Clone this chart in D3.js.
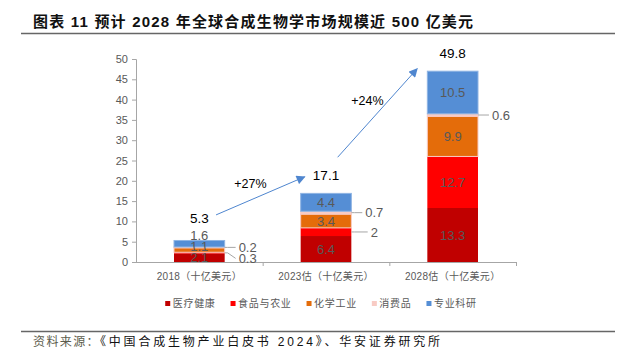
<!DOCTYPE html>
<html>
<head>
<meta charset="utf-8">
<script src="https://cdn.jsdelivr.net/npm/d3@7"></script>
<style>
  body { margin: 0; background: #fff; }
  text { font-family: "Liberation Sans", Arial, "Noto Sans CJK SC", sans-serif; }
  .cjk { font-family: "Liberation Sans", "Noto Sans CJK SC", sans-serif; }
</style>
</head>
<body>
<script>
// 数据
var categories = ["2018（十亿美元）", "2023估（十亿美元）", "2028估（十亿美元）"];
var seriesNames = ["医疗健康", "食品与农业", "化学工业", "消费品", "专业科研"];
var healthcare = [2.1, 6.4, 13.3];
var foodAgri = [0.3, 2, 12.7];
var chemical = [1.1, 3.4, 9.9];
var consumer = [0.2, 0.7, 0.6];
var research = [1.6, 4.4, 10.5];
var totals = [5.3, 17.1, 49.8];
var growth = ["+27%", "+24%"];
var yTicks = [0, 5, 10, 15, 20, 25, 30, 35, 40, 45, 50];
// 增长箭头的起止值（y轴单位）
var arrowFrom = [11.6, 25.8];
var arrowTo = [21.0, 47.6];

var w = 629, h = 354;
var colors = ["#C00000", "#FF0000", "#E46C0A", "#F8CBC4", "#558ED5"];
var grayText = "#595959";
// 小数值标在柱外的系列
var outsideSeries = ["食品与农业", "消费品"];

var svg = d3.select("body").append("svg")
  .attr("width", w)
  .attr("height", h);

// 标题
svg.append("text")
  .attr("class", "cjk")
  .attr("x", 33).attr("y", 26.5)
  .attr("font-size", 15).attr("font-weight", "bold")
  .attr("letter-spacing", 1.2)
  .attr("fill", "#111")
  .text("图表 11 预计 2028 年全球合成生物学市场规模近 500 亿美元");
svg.append("line")
  .attr("x1", 21).attr("x2", 615).attr("y1", 33.5).attr("y2", 33.5)
  .attr("stroke", "#666").attr("stroke-width", 1.5);

// 比例尺
var x = d3.scaleBand().domain(categories).range([136, 516])
  .paddingInner(0.6).paddingOuter(0.3);
var y = d3.scaleLinear().domain([0, 50]).range([262, 59]);

// 表格
var table = categories.map(function(c, i) {
  return {
    cat: c,
    "医疗健康": healthcare[i],
    "食品与农业": foodAgri[i],
    "化学工业": chemical[i],
    "消费品": consumer[i],
    "专业科研": research[i]
  };
});
var stacked = d3.stack().keys(seriesNames)(table);

// y 轴
var yAxis = svg.append("g")
  .attr("transform", "translate(136,0)")
  .call(d3.axisLeft(y).tickValues(yTicks).tickSize(4).tickPadding(4));
yAxis.select(".domain").attr("stroke", "#A6A6A6");
yAxis.selectAll(".tick line").attr("stroke", "#A6A6A6");
yAxis.selectAll(".tick text").attr("font-size", 11).attr("fill", grayText)
  .attr("font-family", "Liberation Sans, Arial, sans-serif");

// 柱子
var layers = svg.selectAll("g.layer")
  .data(stacked)
  .enter()
  .append("g")
  .attr("class", "layer")
  .attr("fill", function(d, i) { return colors[i]; });

layers.selectAll("rect")
  .data(function(d) { return d; })
  .enter()
  .append("rect")
  .attr("x", function(d) { return x(d.data.cat); })
  .attr("y", function(d) { return y(d[1]); })
  .attr("width", x.bandwidth())
  .attr("height", function(d) { return y(d[0]) - y(d[1]); })
  .attr("stroke", function() {
    var k = d3.select(this.parentNode).datum().key;
    return (k == "化学工业" || k == "消费品") ? "#F8CBC4" : (k == "专业科研" ? "#8FB4E3" : "none");
  })
  .attr("stroke-width", 1);

// x 轴
var xAxis = svg.append("g")
  .attr("transform", "translate(0,262)");
xAxis.append("line")
  .attr("x1", 136).attr("x2", 516).attr("y1", 0.5).attr("y2", 0.5)
  .attr("stroke", "#A6A6A6");
xAxis.selectAll("line.tk")
  .data(categories)
  .enter()
  .append("line")
  .attr("class", "tk")
  .attr("x1", function(d) { return x(d) + x.bandwidth() + x.step() * 0.3 + 0.5; })
  .attr("x2", function(d) { return x(d) + x.bandwidth() + x.step() * 0.3 + 0.5; })
  .attr("y1", 0).attr("y2", 4)
  .attr("stroke", "#A6A6A6");
xAxis.selectAll("text")
  .data(categories)
  .enter()
  .append("text")
  .attr("class", "cjk")
  .attr("x", function(d) { return x(d) + x.bandwidth() / 2; })
  .attr("y", 17.5)
  .attr("text-anchor", "middle")
  .attr("font-size", 10)
  .attr("letter-spacing", 0.3)
  .attr("fill", grayText)
  .text(function(d) { return d; });

// 数据标签
var inside = [], outside = [];
stacked.forEach(function(layer) {
  layer.forEach(function(d, i) {
    var v = d[1] - d[0];
    var item = { v: v, i: i, cat: d.data.cat, cy: y((d[0] + d[1]) / 2) };
    if (v <= 2 && outsideSeries.indexOf(layer.key) >= 0) outside.push(item);
    else inside.push(item);
  });
});

// 柱内标签：从下往上，避免重叠
var topLabel = [];
categories.forEach(function(c, i) {
  var items = inside.filter(function(d) { return d.i == i; })
    .sort(function(a, b) { return b.cy - a.cy; });
  items.forEach(function(d, k) {
    d.ly = d.cy;
    if (k > 0 && items[k - 1].ly - d.ly < 11) d.ly = items[k - 1].ly - 11;
  });
  topLabel[i] = items[items.length - 1].ly;
});

svg.selectAll("text.inlabel")
  .data(inside)
  .enter()
  .append("text")
  .attr("class", "inlabel")
  .attr("x", function(d) { return x(d.cat) + x.bandwidth() / 2; })
  .attr("y", function(d) { return d.ly; })
  .attr("dy", "0.36em")
  .attr("text-anchor", "middle")
  .attr("font-size", 13)
  .attr("fill", grayText)
  .text(function(d) { return d.v.toFixed(1); });

// 柱外标签：从上往下，避免重叠
categories.forEach(function(c, i) {
  var items = outside.filter(function(d) { return d.i == i; })
    .sort(function(a, b) { return a.cy - b.cy; });
  items.forEach(function(d, k) {
    d.ly = d.cy;
    if (k > 0 && d.ly - items[k - 1].ly < 11) d.ly = items[k - 1].ly + 11;
  });
});

var outG = svg.selectAll("g.outlabel")
  .data(outside)
  .enter()
  .append("g")
  .attr("class", "outlabel");
outG.append("text")
  .attr("x", function(d) { return x(d.cat) + x.bandwidth() + 23; })
  .attr("y", function(d) { return d.ly; })
  .attr("dy", "0.36em")
  .attr("text-anchor", "middle")
  .attr("font-size", 13)
  .attr("fill", grayText)
  .text(function(d) { return +d.v.toFixed(1); });
outG.insert("path", "text")
  .attr("fill", "none")
  .attr("stroke", "#A6A6A6")
  .attr("d", function(d) {
    var x0 = x(d.cat) + x.bandwidth();
    var tw = this.parentNode.querySelector("text").getComputedTextLength();
    var x1 = x0 + 23 - tw / 2 - 3;
    return "M" + x0 + "," + d.cy + "L" + (x0 + 3) + "," + d.cy + "L" + x1 + "," + d.ly;
  });

// 合计
svg.selectAll("text.total")
  .data(totals)
  .enter()
  .append("text")
  .attr("class", "total")
  .attr("x", function(d, i) { return x(categories[i]) + x.bandwidth() / 2; })
  .attr("y", function(d, i) {
    var top = y(d3.sum(stacked, function(l) { return l[i][1] - l[i][0]; }));
    return Math.min(top, topLabel[i]) - 18;
  })
  .attr("dy", "0.36em")
  .attr("text-anchor", "middle")
  .attr("font-size", 13.5)
  .attr("fill", "#000")
  .text(function(d) { return d.toFixed(1); });

// 箭头
svg.append("defs").append("marker")
  .attr("id", "ah")
  .attr("viewBox", "0 0 10 10")
  .attr("refX", 9).attr("refY", 5)
  .attr("markerWidth", 10).attr("markerHeight", 9)
  .attr("markerUnits", "userSpaceOnUse")
  .attr("orient", "auto")
  .append("path")
  .attr("d", "M0,0L10,5L0,10z")
  .attr("fill", "#4F86CF");

var arrowX0 = [0.83, 0.73];
var arrowX1 = [0.08, -0.2];
growth.forEach(function(g, i) {
  var xa = x(categories[i]) + x.bandwidth() * arrowX0[i];
  var xb = x(categories[i + 1]) + x.bandwidth() * arrowX1[i];
  var ya = y(arrowFrom[i]), yb = y(arrowTo[i]);
  svg.append("line")
    .attr("x1", xa).attr("y1", ya).attr("x2", xb).attr("y2", yb)
    .attr("stroke", "#4F86CF").attr("stroke-width", 1)
    .attr("marker-end", "url(#ah)");
  svg.append("text")
    .attr("x", (xa + xb) / 2 - 10)
    .attr("y", (ya + yb) / 2 - 12)
    .attr("dy", "0.36em")
    .attr("text-anchor", "middle")
    .attr("font-size", 12.5)
    .attr("fill", "#000")
    .text(g);
});

// 图例
var legend = svg.append("g").attr("transform", "translate(0,303.5)");
var lx = 0;
var items = legend.selectAll("g")
  .data(seriesNames)
  .enter()
  .append("g");
items.append("rect")
  .attr("x", 0).attr("y", -2.5)
  .attr("width", 5).attr("height", 5)
  .attr("fill", function(d, i) { return colors[i]; });
items.append("text")
  .attr("class", "cjk")
  .attr("x", 7.5).attr("dy", "0.36em")
  .attr("font-size", 10)
  .attr("letter-spacing", 0.7)
  .attr("fill", grayText)
  .text(function(d) { return d; });
items.each(function() {
  d3.select(this).attr("transform", "translate(" + lx + ",0)");
  lx += 7.5 + this.querySelector("text").getComputedTextLength() + 15;
});
legend.attr("transform", "translate(" + (321 - (lx - 15) / 2) + ",303.5)");

// 来源
svg.append("line")
  .attr("x1", 21).attr("x2", 615).attr("y1", 331.5).attr("y2", 331.5)
  .attr("stroke", "#666").attr("stroke-width", 1.5);
var src = svg.append("text")
  .attr("class", "cjk")
  .attr("x", 33).attr("y", 346)
  .attr("font-size", 12);
src.append("tspan").attr("fill", "#5c5c4c").attr("letter-spacing", 1.4).text("资料来源：");
src.append("tspan").attr("fill", "#111").attr("letter-spacing", 2.8).text("《中国合成生物产业白皮书 2024》、华安证券研究所");
</script>
</body>
</html>
